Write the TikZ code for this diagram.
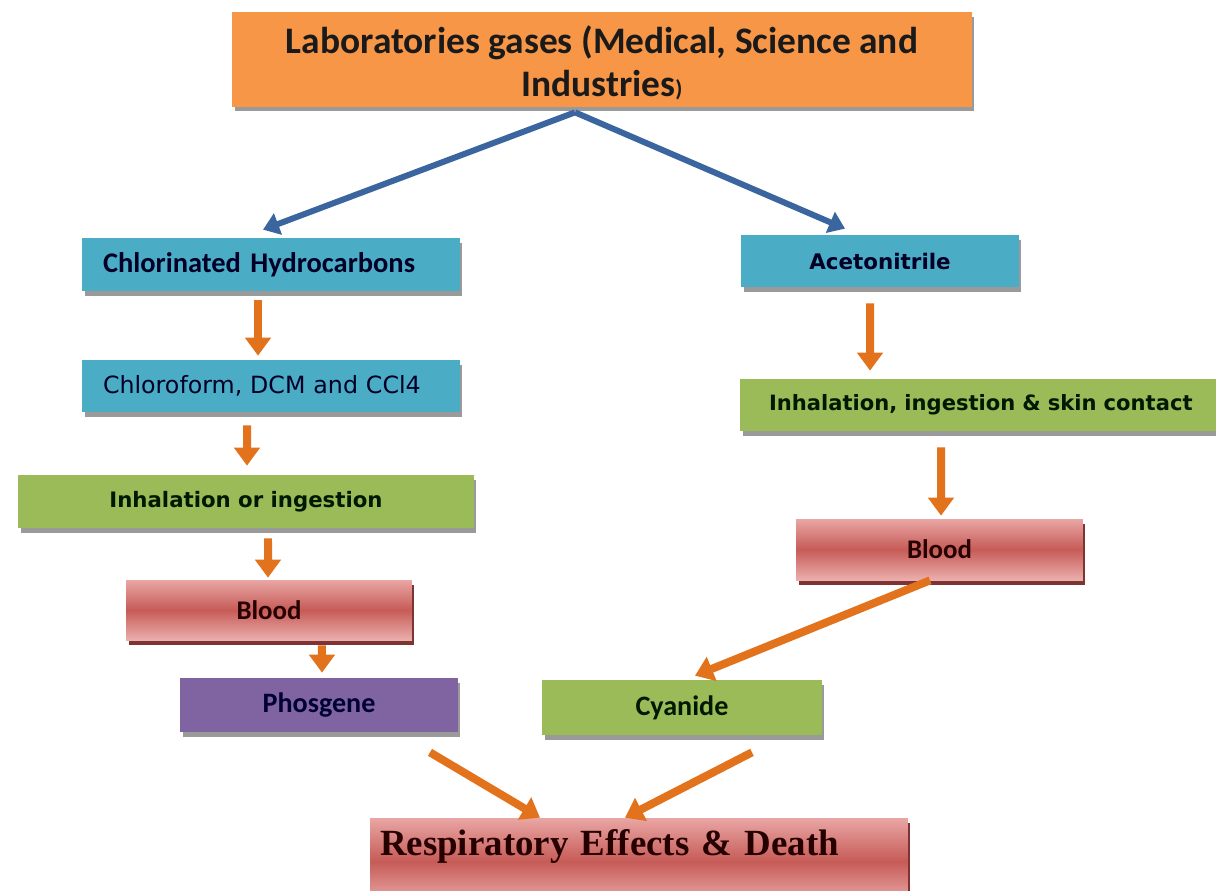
\documentclass[tikz,border=0pt]{standalone}
\usepackage{fontspec}
\setmainfont{Carlito}
\newfontfamily\tahfont{DejaVu Sans}
\newfontfamily\serffont{Liberation Serif}
\usetikzlibrary{shadows,arrows.meta}
\definecolor{orbox}{HTML}{F79646}
\definecolor{blbox}{HTML}{4BACC6}
\definecolor{grbox}{HTML}{9BBB59}
\definecolor{pubox}{HTML}{8064A2}
\definecolor{redA}{HTML}{E9A6A4}
\definecolor{redB}{HTML}{C65B57}
\definecolor{arrowor}{HTML}{E2721C}
\definecolor{arrowbl}{HTML}{3B659E}
\definecolor{shadowgray}{HTML}{9A9A9A}
\definecolor{redshadow}{HTML}{7E3432}
\definecolor{txt}{HTML}{1A1A1A}
\begin{document}
\begin{tikzpicture}[x=0.02cm,y=-0.02cm,
  every node/.style={inner sep=0pt, text=txt},
  box/.style={rectangle, draw=none, drop shadow={shadow xshift=0.05cm, shadow yshift=-0.09cm, fill=shadowgray, opacity=1}},
  orangebox/.style={box, fill=orbox},
  bluebox/.style={box, fill=blbox, text=black!85!blue},
  greenbox/.style={box, fill=grbox, text=black!90!green},
  purplebox/.style={box, fill=pubox, text=black!80!blue},
  redbox/.style={rectangle, draw=none, top color=redA, bottom color=redA!90!white, middle color=redB,
     drop shadow={shadow xshift=0.05cm, shadow yshift=-0.09cm, fill=redshadow, opacity=1}, text=black!85!red},
  oarrow/.style={draw=arrowor, line width=0.16cm, -{Triangle[width=0.5cm,length=0.36cm]}},
  barrow/.style={draw=arrowbl, line width=0.12cm, -{Triangle[width=0.44cm,length=0.32cm]}}
]
\useasboundingbox (0,0) rectangle (1216,890);
\fill[white] (0,0) rectangle (1216,890);

% top
\node[orangebox, minimum width=14.8cm, minimum height=1.9cm,
  font=\fontsize{21.3}{24.4}\selectfont\bfseries] (top) at (602,59.5)
  {\raisebox{-0.13cm}[\height][\depth]{\begin{tabular}{@{}c@{}}Laboratories gases (Medical, Science and\\Industries{\fontsize{13}{13}\selectfont)}\end{tabular}}};

% left column
\node[bluebox, minimum width=7.56cm, minimum height=1.06cm, text width=6.72cm, align=left,
  font=\fontsize{16.2}{18}\selectfont\bfseries] (chl) at (271,264.5) {Chlorinated Hydrocarbons};
\node[bluebox, minimum width=7.56cm, minimum height=1.04cm, text width=6.72cm, align=left,
  font=\tahfont\fontsize{13.5}{15}\selectfont] (chf) at (271,386) {Chloroform, DCM and CCl4};
\node[greenbox, minimum width=9.12cm, minimum height=1.06cm,
  font=\tahfont\bfseries\fontsize{12.1}{14}\selectfont] (inh1) at (246,501.5) {Inhalation or ingestion};
\node[redbox, minimum width=5.72cm, minimum height=1.2cm,
  font=\fontsize{15.3}{17}\selectfont\bfseries] (bl1) at (269,610) {Blood};
\node[purplebox, minimum width=5.56cm, minimum height=1.08cm,
  font=\fontsize{16}{18}\selectfont\bfseries] (pho) at (319,705) {Phosgene};

% right column
\node[bluebox, minimum width=5.56cm, minimum height=1.04cm,
  font=\tahfont\bfseries\fontsize{12.2}{14}\selectfont] (acet) at (880,261) {Acetonitrile};
\node[greenbox, minimum width=9.8cm, minimum height=1.04cm, text width=8.64cm, align=left,
  font=\tahfont\bfseries\fontsize{12}{14}\selectfont] (inh2) at (985,405) {Inhalation, ingestion \& skin contact};
\node[redbox, minimum width=5.74cm, minimum height=1.22cm,
  font=\fontsize{15.3}{17}\selectfont\bfseries] (bl2) at (939.5,549.5) {Blood};
\node[greenbox, minimum width=5.6cm, minimum height=1.1cm,
  font=\fontsize{16}{18}\selectfont\bfseries] (cya) at (682,707.5) {Cyanide};

% bottom
\node[redbox, minimum width=10.76cm, minimum height=1.74cm, text width=10.36cm, align=left,
  text depth=0.75cm, font=\serffont\bfseries\fontsize{21}{24}\selectfont] (resp) at (639,861.5)
  {Respiratory Effects \& Death};

% blue arrows
\draw[barrow] ([xshift=-0.54cm,yshift=-0.1cm]top.south) -- ([xshift=-0.16cm,yshift=0.16cm]chl.north);
\draw[barrow] ([xshift=-0.54cm,yshift=-0.1cm]top.south) -- ([xshift=-0.7cm,yshift=0.12cm]acet.north);

% orange arrows
\draw[oarrow] ([xshift=-0.26cm,yshift=-0.18cm]chl.south) -- ([xshift=-0.26cm,yshift=0.08cm]chf.north);
\draw[oarrow] ([xshift=-0.48cm,yshift=-0.26cm]chf.south) -- ([xshift=0.02cm,yshift=0.18cm]inh1.north);
\draw[oarrow] ([xshift=0.44cm,yshift=-0.2cm]inh1.south) -- ([xshift=-0.02cm,yshift=0.04cm]bl1.north);
\draw[oarrow] ([xshift=1.06cm,yshift=-0.1cm]bl1.south) -- ([xshift=0.06cm,yshift=0.1cm]pho.north);
\draw[oarrow] ([xshift=-0.2cm,yshift=-0.32cm]acet.south) -- ([xshift=-2.3cm,yshift=0.16cm]inh2.north);
\draw[oarrow] ([xshift=-0.88cm,yshift=-0.32cm]inh2.south) -- ([xshift=0.03cm,yshift=0.06cm]bl2.north);
\draw[oarrow] ([xshift=-0.19cm,yshift=0cm]bl2.south) -- ([xshift=0.26cm,yshift=0.08cm]cya.north);
\draw[oarrow] ([xshift=2.22cm,yshift=-0.4cm]pho.south) -- ([xshift=-1.98cm,yshift=0cm]resp.north);
\draw[oarrow] ([xshift=1.4cm,yshift=-0.34cm]cya.south) -- ([xshift=-0.28cm,yshift=0cm]resp.north);
\end{tikzpicture}
\end{document}
